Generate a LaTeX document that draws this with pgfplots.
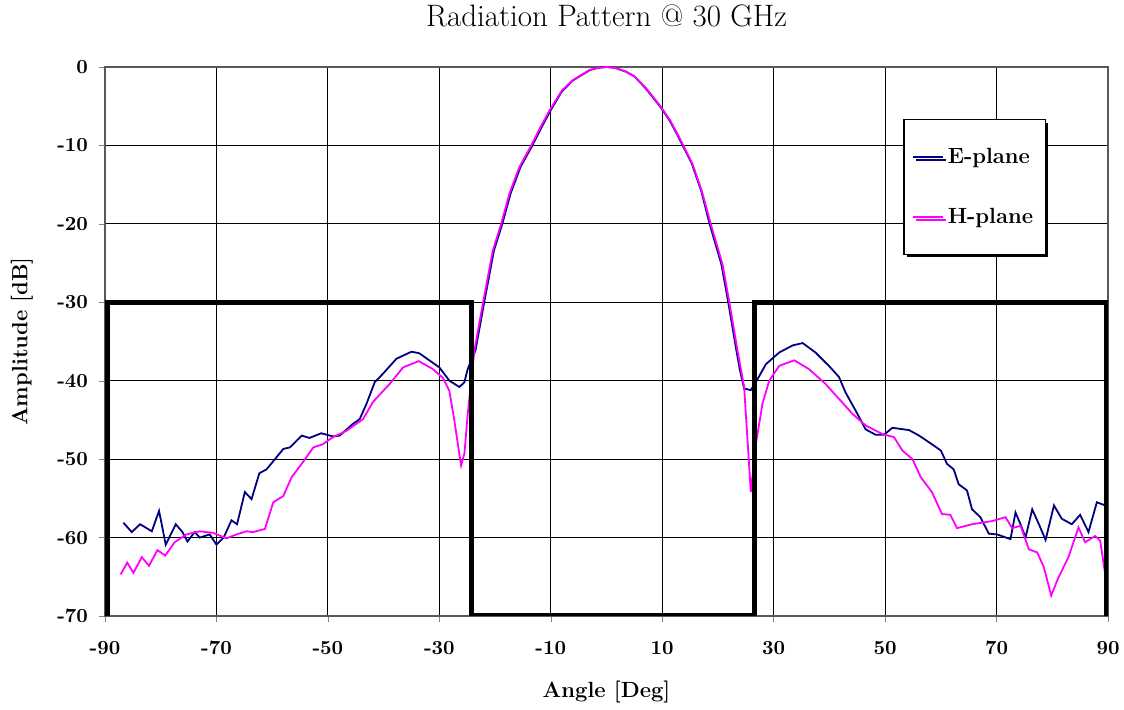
\documentclass[border=0pt]{standalone}
\usepackage{pgfplots}
\pgfplotsset{compat=1.18}
\usetikzlibrary{shadows}
\definecolor{eplane}{RGB}{0,0,128}
\definecolor{hplane}{RGB}{255,0,255}
\begin{document}
\begin{tikzpicture}
\useasboundingbox (-52.5pt,-47pt) rectangle (509.5pt,308pt);
\begin{axis}[
  scale only axis,
  width=501.5pt, height=274.5pt,
  xmin=-90, xmax=90, ymin=-70, ymax=0,
  xtick={-90,-70,...,90}, ytick={-70,-60,...,0},
  grid=major,
  major grid style={black, line width=0.5pt},
  axis line style={gray!70!black, line width=0.6pt},
  tick align=outside, tick pos=left,
  major tick length=3pt,
  /pgf/number format/assume math mode=true,
  tick label style={font=\fontsize{10}{12}\selectfont\bfseries},
  xticklabel style={yshift=-6pt},
  yticklabel style={xshift=-2pt},
  xlabel={\fontsize{11}{13}\selectfont\bfseries Angle [Deg]},
  ylabel={\fontsize{11}{13}\selectfont\bfseries Amplitude [dB]},
  xlabel style={at={(axis description cs:0.5,0)}, anchor=center, yshift=-38pt},
  ylabel style={at={(axis description cs:-0.0828,0.5)}, anchor=center},
  legend style={at={(rel axis cs:0.796,0.905)}, anchor=north west,
    draw=black, fill=white, line width=0.6pt,
    drop shadow={shadow xshift=1.5pt, shadow yshift=-1.5pt, fill=black, opacity=1},
    font=\fontsize{11}{13}\selectfont\bfseries,
    inner xsep=4pt, inner ysep=12pt, row sep=17pt},
  legend cell align=left,
  legend image code/.code={\draw[#1, line width=0.9pt] (0pt,0pt) -- (15pt,0pt);},
]
\addplot[eplane, line width=0.9pt] coordinates {
(-86.7,-58.1) (-85.2,-59.3) (-83.7,-58.3) (-81.6,-59.2) (-80.3,-56.6) (-79.1,-60.9)
(-77.3,-58.3) (-76.1,-59.3) (-75.2,-60.5) (-73.9,-59.3) (-73.0,-60.0) (-71.2,-59.6)
(-70.0,-60.9) (-68.7,-60.0) (-67.3,-57.8) (-66.3,-58.3) (-64.9,-54.2) (-63.7,-55.1)
(-62.3,-51.8) (-61.0,-51.3) (-59.5,-50.0) (-58.0,-48.7) (-56.8,-48.5) (-54.7,-47.0)
(-53.3,-47.3) (-51.2,-46.7) (-49.1,-47.1) (-47.9,-47.0) (-45.5,-45.5) (-44.3,-44.9)
(-43.1,-43.0) (-41.6,-40.2) (-40.1,-39.1) (-37.7,-37.2) (-35.0,-36.3) (-33.6,-36.5)
(-30.0,-38.3) (-28.2,-40.0) (-26.4,-40.8) (-25.5,-40.2) (-24.9,-38.5)
(-23.5,-36.1) (-22.0,-30.2) (-20.2,-23.4) (-18.7,-20.0) (-17.2,-16.1) (-15.4,-12.7)
(-13.3,-10.0) (-11.6,-7.6) (-10.0,-5.5) (-8.0,-3.1) (-6.0,-1.7) (-3.0,-0.4) (-1.5,-0.1) (0,0)
(1.5,-0.1) (3.5,-0.6) (5.0,-1.2) (7.0,-2.7) (9.7,-5.1) (11.4,-6.9) (12.9,-8.9) (15.3,-12.3)
(17.0,-15.8) (18.5,-20.0) (20.6,-25.1) (21.8,-29.8) (23.3,-36.1) (23.9,-38.5) (24.7,-41.0)
(25.9,-41.2) (27.1,-39.8) (28.6,-37.9) (31.0,-36.4) (33.4,-35.5) (35.2,-35.2)
(37.5,-36.4) (39.9,-38.1) (41.7,-39.5) (42.9,-41.5) (44.7,-43.8) (46.5,-46.2)
(48.3,-46.9) (49.8,-46.9) (51.3,-46.0) (54.3,-46.3) (56.1,-47.0) (58.4,-48.1)
(60.0,-48.9) (61.1,-50.6) (62.3,-51.3) (63.2,-53.2) (64.7,-54.0) (65.6,-56.4)
(67.1,-57.4) (68.6,-59.5) (70.1,-59.6) (72.5,-60.2) (73.4,-56.8) (74.3,-58.3)
(75.2,-60.0) (76.4,-56.4) (77.6,-58.3) (78.8,-60.3) (80.3,-55.9) (81.7,-57.6)
(83.5,-58.3) (85.0,-57.1) (86.5,-59.3) (88.0,-55.5) (89.5,-55.9) (90,-56.2)
};
\addlegendentry{E-plane}
\addplot[hplane, line width=0.9pt] coordinates {
(-87.2,-64.7) (-86.0,-63.2) (-84.9,-64.5) (-83.4,-62.5) (-82.1,-63.6) (-80.6,-61.6)
(-79.2,-62.3) (-77.5,-60.6) (-75.4,-59.6) (-73.0,-59.2) (-70.6,-59.4) (-68.2,-60.1)
(-66.4,-59.6) (-64.6,-59.2) (-63.4,-59.3) (-61.3,-58.9) (-59.8,-55.5) (-58.0,-54.7)
(-56.5,-52.3) (-54.5,-50.4) (-52.6,-48.5) (-50.9,-48.1) (-49.1,-47.2) (-46.7,-46.4)
(-43.7,-44.9) (-41.9,-42.7) (-38.9,-40.4) (-36.5,-38.3) (-33.7,-37.5) (-31.2,-38.5)
(-29.4,-39.6) (-28.2,-41.3) (-27.3,-45.1) (-26.1,-50.8) (-25.5,-49.3) (-24.9,-44.2)
(-23.7,-36.1) (-22.2,-30.2) (-20.4,-23.4) (-18.9,-20.0) (-17.4,-16.1) (-15.6,-12.7)
(-13.5,-10.0) (-11.8,-7.6) (-10.2,-5.5) (-8.0,-3.0) (-6.1,-1.7) (-3.1,-0.4) (-1.5,-0.1) (0,0)
(1.5,-0.1) (3.5,-0.6) (5.0,-1.2) (7.1,-2.7) (9.8,-5.1) (11.5,-6.9) (13.0,-8.9) (15.4,-12.3)
(17.1,-15.8) (18.7,-20.0) (20.8,-25.1) (22.0,-29.8) (23.5,-36.1) (24.7,-40.8) (25.9,-54.2)
(26.8,-48.1) (28.0,-42.9) (29.2,-40.0) (31.0,-38.1) (33.7,-37.4) (36.3,-38.5)
(39.3,-40.4) (41.7,-42.3) (44.1,-44.2) (46.5,-45.7) (49.5,-46.8) (51.6,-47.2)
(53.1,-48.9) (54.9,-50.0) (56.4,-52.3) (58.4,-54.2) (60.2,-57.0) (61.7,-57.1)
(62.9,-58.8) (65.6,-58.3) (69.2,-57.9) (71.6,-57.4) (72.8,-58.8) (74.3,-58.5)
(75.8,-61.5) (77.3,-61.9) (78.5,-63.8) (79.8,-67.4) (81.1,-65.1) (82.9,-62.5)
(84.7,-58.7) (85.9,-60.6) (87.7,-59.8) (88.6,-60.4) (89.5,-64.7) (90,-66.0)
};
\addlegendentry{H-plane}
\addplot[black, line width=2.5pt, forget plot] coordinates {
(-89.5,-70) (-89.5,-30) (-24.3,-30) (-24.3,-70) (26.6,-70) (26.6,-30) (89.8,-30) (89.8,-70)
};
\end{axis}
\node[anchor=center, font=\fontsize{15.5}{18}\selectfont] at (250.75pt,300pt) {Radiation Pattern @ 30 GHz};
\end{tikzpicture}
\end{document}
